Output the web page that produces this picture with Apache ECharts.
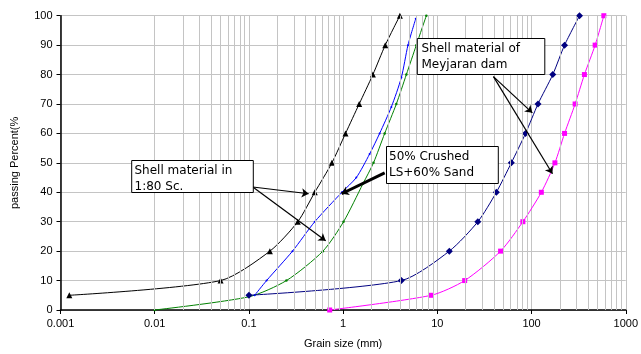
<!DOCTYPE html>
<html>
<head>
<meta charset="utf-8">
<script src="https://cdn.jsdelivr.net/npm/echarts@6/dist/echarts.min.js"></script>
<style>
  html, body { margin: 0; padding: 0; background: #fff; }
  #chart { width: 641px; height: 354px; }
</style>
</head>
<body>
<div id="chart"></div>
<script>
// grain size curves (x = grain size mm, y = passing %)
var shell180X = [0.00124, 0.05, 0.167, 0.33, 0.5, 0.76, 1.06, 1.48, 2.07, 2.8, 4.0];
var shell180Y = [5, 10, 20, 30, 40, 50, 60, 70, 80, 90, 100];

var blueX = [0.115, 0.154, 0.29, 0.5, 0.97, 1.38, 1.91, 2.44, 3.25, 4.15, 4.88, 5.9];
var blueY = [5, 10, 20, 30, 40, 45, 53, 60, 69, 79, 90, 99];

var crushedX = [0.01, 0.1, 0.25, 0.61, 1.01, 1.63, 2.1, 2.76, 3.67, 4.69, 5.98, 7.64];
var crushedY = [0, 4.5, 10, 20, 30, 43, 50, 60, 70, 80, 90, 100];

var meyjaranX = [0.1, 4.15, 13.4, 26.9, 42.3, 61, 86.3, 117, 168, 224, 323];
var meyjaranY = [5, 10, 20, 30, 40, 50, 60, 70, 80, 90, 100];

var magentaX = [0.72, 8.6, 19.5, 46.9, 80.9, 127, 177, 224, 290, 364, 473, 585];
var magentaY = [0, 5, 10, 20, 30, 40, 50, 60, 70, 80, 90, 100];

var xTicks = [0.001, 0.01, 0.1, 1, 10, 100, 1000];

function pairs(xs, ys) {
  return xs.map(function (x, i) { return [x, ys[i]]; });
}

// minor vertical grid lines 2..9 in each decade
var minorLines = [];
for (var d = 0; d < xTicks.length - 1; d++) {
  for (var k = 2; k <= 9; k++) {
    minorLines.push({ xAxis: xTicks[d] * k });
  }
}

var chart = echarts.init(document.getElementById('chart'));
var font = 'Liberation Sans, Arial, sans-serif';
var boxFont = 'DejaVu Sans, sans-serif';

function box(left, top, w, h, lines, tx) {
  return {
    type: 'group',
    children: [
      {
        type: 'rect',
        shape: { x: left, y: top, width: w, height: h },
        style: { fill: '#fff', stroke: '#000', lineWidth: 1 },
        z: 10
      },
      {
        type: 'text',
        x: tx, y: top + 2,
        style: {
          text: lines.join('\n'),
          font: '12px ' + boxFont,
          fill: '#000',
          lineHeight: 16
        },
        z: 11
      }
    ]
  };
}

var option = {
  backgroundColor: '#fff',
  animation: false,
  grid: { left: 60.5, right: 14.6, top: 15.7, bottom: 44 },
  xAxis: {
    type: 'log',
    logBase: 10,
    min: 0.001,
    max: 1000,
    splitNumber: 6,
    name: 'Grain size (mm)',
    nameLocation: 'middle',
    nameGap: 28,
    nameTextStyle: { fontFamily: font, fontSize: 11, color: '#000' },
    axisLine: { lineStyle: { color: '#000', width: 1.5 } },
    axisTick: { show: true, length: 4, lineStyle: { color: '#000' } },
    axisLabel: {
      fontFamily: font, fontSize: 11, color: '#000', margin: 8,
      formatter: function (v) { return String(+v.toPrecision(3)); }
    },
    splitLine: { show: true, lineStyle: { color: '#c4c4c4', width: 1 } }
  },
  yAxis: {
    type: 'value',
    min: 0,
    max: 100,
    interval: 10,
    name: 'passing Percent(%',
    nameLocation: 'middle',
    nameGap: 40,
    nameTextStyle: { fontFamily: font, fontSize: 11, color: '#000' },
    axisLine: { show: true, lineStyle: { color: '#000', width: 1.5 } },
    axisTick: { show: true, length: 4, lineStyle: { color: '#000' } },
    axisLabel: { fontFamily: font, fontSize: 11, color: '#000', margin: 8 },
    splitLine: { show: true, lineStyle: { color: '#c4c4c4', width: 1 } }
  },
  series: [
    {
      name: 'grid',
      type: 'line',
      data: [],
      z: 1,
      silent: true,
      markLine: {
        silent: true,
        symbol: 'none',
        label: { show: false },
        lineStyle: { color: '#c4c4c4', width: 1, type: 'solid' },
        data: minorLines
      }
    },
    {
      name: 'Shell material 1:80',
      type: 'line',
      data: pairs(shell180X, shell180Y),
      smooth: 0.25,
      color: '#000',
      lineStyle: { width: 1 },
      symbol: 'triangle',
      symbolSize: 6,
      z: 3
    },
    {
      name: 'blue',
      type: 'line',
      data: pairs(blueX, blueY),
      smooth: 0.25,
      color: '#0000ff',
      lineStyle: { width: 1 },
      symbol: 'circle',
      symbolSize: 2,
      z: 3
    },
    {
      name: 'Crushed',
      type: 'line',
      data: pairs(crushedX, crushedY),
      smooth: 0.25,
      color: '#008000',
      lineStyle: { width: 1 },
      symbol: 'circle',
      symbolSize: 2.5,
      z: 3
    },
    {
      name: 'Meyjaran',
      type: 'line',
      data: pairs(meyjaranX, meyjaranY),
      smooth: 0.25,
      color: '#000080',
      lineStyle: { width: 1 },
      symbol: 'diamond',
      symbolSize: 7,
      z: 3
    },
    {
      name: 'magenta',
      type: 'line',
      data: pairs(magentaX, magentaY),
      smooth: 0.25,
      color: '#ff00ff',
      lineStyle: { width: 1 },
      symbol: 'rect',
      symbolSize: 5,
      z: 3
    },
    {
      name: 'arrows',
      type: 'line',
      data: [],
      z: 5,
      silent: true,
      markLine: {
        silent: true,
        symbol: ['none', 'arrow'],
        symbolSize: 7,
        label: { show: false },
        lineStyle: { color: '#000', width: 1.2, type: 'solid' },
        data: [
          [{ coord: [0.11, 41.8] }, { coord: [0.431, 39.5] }],
          [{ coord: [0.11, 41.8] }, { coord: [0.653, 23.5] }],
          [{ coord: [2.76, 46.6], lineStyle: { width: 3 } }, { coord: [0.964, 39.5] }],
          [{ coord: [39.4, 79.3] }, { coord: [102, 67] }],
          [{ coord: [39.4, 79.3] }, { coord: [166.7, 46.3] }]
        ]
      }
    }
  ],
  graphic: [
    box(131.7, 160.5, 121.6, 32, ['Shell material in', '1:80 Sc.'], 134.5),
    box(386.5, 146.5, 111.8, 37, ['50% Crushed', 'LS+60% Sand'], 389),
    box(417.3, 38.5, 127.5, 36, ['Shell material of', 'Meyjaran dam'], 421.5)
  ]
};

chart.setOption(option);
</script>
</body>
</html>
